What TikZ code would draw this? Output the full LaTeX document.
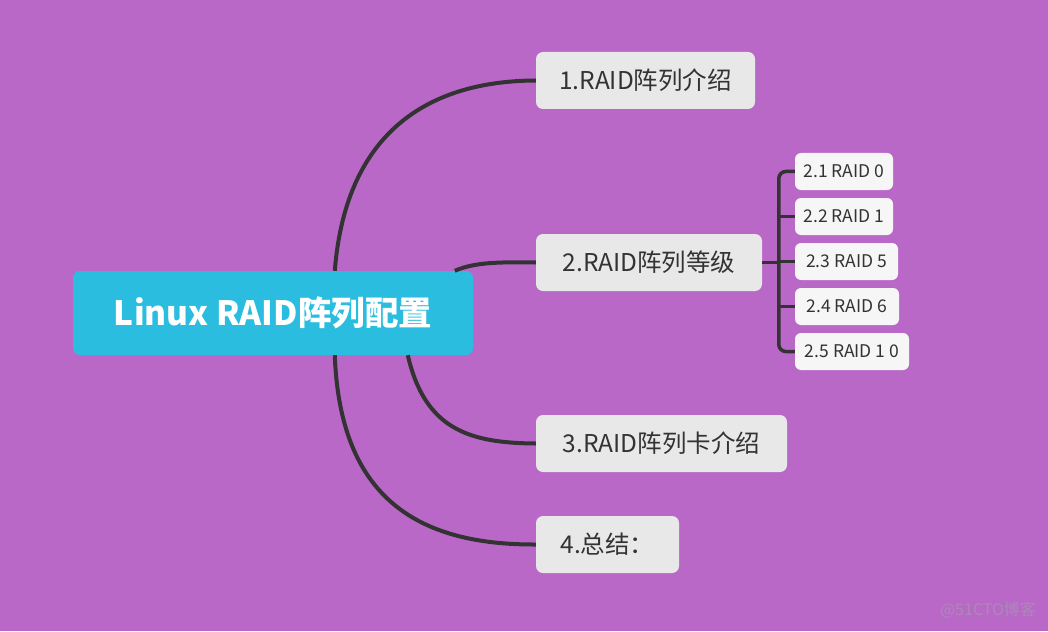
\documentclass[tikz,border=0pt]{standalone}
\usepackage{fontspec}
\setmainfont{Noto Sans CJK SC}
\definecolor{bgpurple}{HTML}{B968C7}
\definecolor{topicblue}{HTML}{2BBDDF}
\definecolor{branchgray}{HTML}{E8E8E8}
\definecolor{subgray}{HTML}{F6F6F6}
\definecolor{linegray}{HTML}{333333}
\definecolor{textgray}{HTML}{333333}
\definecolor{markgray}{HTML}{A98AB5}
\begin{document}
\begin{tikzpicture}[x=1pt,y=-1pt,
  zhuti/.style={fill=topicblue,rounded corners=7pt,text=white,inner sep=0pt,
    minimum height=84pt,font=\fontsize{33.5}{40}\selectfont\bfseries},
  fenzhi/.style={fill=branchgray,rounded corners=7pt,text=textgray,inner sep=0pt,
    minimum height=57pt,font=\fontsize{24.5}{29}\selectfont},
  zijie/.style={fill=subgray,rounded corners=6pt,text=textgray,inner sep=0pt,
    minimum height=37pt,font=\fontsize{17.5}{21}\selectfont},
  lianxian/.style={draw=linegray,line width=4pt},
  zixian/.style={draw=linegray,line width=3.5pt}]
  % 背景
  \fill[bgpurple] (0,0) rectangle (1048,631);
  % 中心主题
  \node[zhuti,minimum width=400pt] (main) at (273,313) {Linux RAID阵列配置};
  % 分支主题
  \node[fenzhi,minimum width=219pt] (b1) at (645.5,80.5) {1.RAID阵列介绍};
  \node[fenzhi,minimum width=226pt] (b2) at (649,262.5) {2.RAID阵列等级};
  \node[fenzhi,minimum width=251pt] (b3) at (661.5,443.5) {3.RAID阵列卡介绍};
  \node[fenzhi,minimum width=143pt] (b4) at (607.5,544.5) {4.总结：};
  % 子主题
  \node[zijie,minimum width=98pt] (s1) at (844,171.5) {2.1 RAID 0};
  \node[zijie,minimum width=98pt] (s2) at (844,216.5) {2.2 RAID 1};
  \node[zijie,minimum width=103pt] (s3) at (846.5,261.5) {2.3 RAID 5};
  \node[zijie,minimum width=104pt] (s4) at (847,306.5) {2.4 RAID 6};
  \node[zijie,minimum width=114pt] (s5) at (852,351.5) {2.5 RAID 1 0};
  % 连线起点
  \coordinate (m1) at ([xshift=262pt]main.north west);
  \coordinate (m2) at ([xshift=382pt]main.north west);
  \coordinate (m3) at ([xshift=335pt]main.south west);
  \coordinate (m4) at ([xshift=262pt]main.south west);
  % 主干连线
  \draw[lianxian] (m1) .. controls (345,140) and (420,81) .. (b1.west);
  \draw[lianxian] (m2) .. controls (475,262) and (500,262) .. (b2.west);
  \draw[lianxian] (m3) .. controls (425,430) and (470,443) .. (b3.west);
  \draw[lianxian] (m4) .. controls (340,500) and (420,545) .. (b4.west);
  % 子主题连线
  \draw[zixian] (b2.east) -- ++(17,0);
  \draw[zixian,rounded corners=7pt] (s1.west) -- ++(-16,0) |- (s5.west);
  \draw[zixian] (s2.west) -- ++(-16,0);
  \draw[zixian] (s3.west) -- ++(-16,0);
  \draw[zixian] (s4.west) -- ++(-16,0);
  % 水印
  \node[text=markgray,font=\fontsize{16}{19}\selectfont] (shuiyin) at (988,610) {@51CTO博客};
\end{tikzpicture}
\end{document}
